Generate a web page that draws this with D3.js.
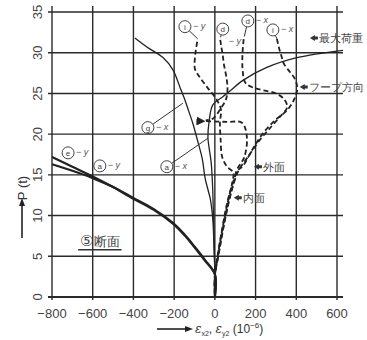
<!DOCTYPE html>
<html>
<head>
<meta charset="utf-8">
<script src="https://cdn.jsdelivr.net/npm/d3@7"></script>
<style>
  body { margin: 0; background: #fff; }
  svg text { font-family: "Liberation Sans", "DejaVu Sans", sans-serif; }
</style>
</head>
<body>
<div id="chart"></div>
<script>
// strain (10^-6) vs load P (t), section 5
const xTicks = [-800, -600, -400, -200, 0, 200, 400, 600];
const yTicks = [0, 5, 10, 15, 20, 25, 30, 35];

// solid curves (thick: compression y-direction)
const aY = [[0,0],[0,2.8],[-50,4.6],[-100,6.2],[-150,7.7],[-206,9.1],[-300,10.8],[-403,12.2],[-500,13.5],[-600,14.6],[-700,15.5],[-800,16.3]];
const eY = [[0,0],[0,2.8],[-50,4.5],[-100,6.1],[-150,7.6],[-206,9.0],[-300,10.7],[-403,12.1],[-500,13.5],[-600,14.8],[-700,16.0],[-800,17.2]];
const gX = [[0,0],[0,2.8],[-4,6],[-10,9.5],[-22,12],[-34,13.2],[-48,14.6],[-62,17],[-86,19.3],[-108,21.3],[-128,22.8],[-147,24.2],[-172,25.8],[-206,27.9],[-255,29.4],[-334,30.7],[-393,31.8]];
const aX = [[0,0],[0,3],[-3,6],[-7,10],[-11,13.5],[-18,16.5],[-30,18.6],[-34,19.6],[-28,21.6],[-10,23.6],[39,24.6],[74,25.3],[138,26.6],[255,28.2],[403,29.4],[630,30.3]];

// dashed curves
const iY = [[0,0],[0,2.5],[14,5],[38,8.5],[62,11.5],[85,14],[90,15.3],[60,16],[36,17.2],[28,19.5],[25,21.4],[30,23],[10,24.2],[-39,25.8],[-80,27.2],[-98,28],[-95,30],[-84,31.7]];
const dYLow = [[0,0],[0,2.6],[16,5],[41,8.5],[66,11.5],[92,14],[108,15.6],[145,17.2],[157,19.7],[133,21.4],[60,21.5],[-55,21.6]];
const dYHigh = [[-45,21.7],[-10,21.9],[25,23],[55,24.3],[62,25.5],[58,26.8],[45,28.5],[38,29.8],[30,31],[25,31.9]];
const dX = [[0,0],[0,2.7],[17,5],[42,8.5],[67,11.5],[93,14],[118,15.6],[162,17.2],[221,19.3],[280,21],[322,22.2],[355,23.3],[340,24.3],[300,25],[236,25.4],[190,25.7],[150,26.3],[136,28],[136,30],[142,31.8]];
const iX = [[0,0],[0,2.4],[13,5],[37,8.5],[60,11.5],[88,14],[112,15.5],[138,16.1],[182,18],[236,20.1],[300,21.8],[354,22.9],[390,24.3],[405,25.6],[395,26.7],[370,27.6],[340,28.6],[328,29.5],[315,30.6],[305,31.7]];

// gauge labels: letter, direction, circle position, leader end (data units)
const gaugeLabels = [
  ['e', 'y', [-721, 17.7], null],
  ['a', 'y', [-565, 16.1], null],
  ['a', 'x', [-236, 16.0], [-34, 19.5]],
  ['g', 'x', [-329, 20.8], [-157, 23.8]],
  ['i', 'y', [-147, 33.2], [-84, 31.7]],
  ['d', 'y', [39, 32.9], [28, 31.9]],
  ['d', 'x', [162, 33.9], [145, 32.0]],
  ['i', 'x', [285, 32.8], [305, 31.7]]
];

// side notes with pointer
const notes = [
  ['最大荷重', [467, 31.8]],
  ['フープ方向', [417, 25.8]],
  ['外面', [192, 16.0]],
  ['内面', [93, 12.2]]
];

const dimensions = {
  width: 367,
  height: 340,
  left: 52,
  right: 337,
  top: 12,
  bottom: 297
};

const svg = d3.select('#chart')
  .append('svg')
  .attr('width', dimensions.width)
  .attr('height', dimensions.height);

const xScale = d3.scaleLinear()
  .domain([-800, 600])
  .range([dimensions.left, dimensions.right]);

const yScale = d3.scaleLinear()
  .domain([0, 35])
  .range([dimensions.bottom, dimensions.top]);

svg.append('defs').append('marker')
  .attr('id', 'jump')
  .attr('viewBox', '0 0 10 10')
  .attr('refX', 2).attr('refY', 5)
  .attr('markerWidth', 5).attr('markerHeight', 5)
  .attr('orient', 'auto')
  .append('path')
  .attr('d', 'M0,5 L10,0 L10,10 Z')
  .attr('fill', '#222');

// grid
const grid = svg.append('g').attr('stroke', '#2a2a2a').attr('stroke-width', 1.4);

grid.selectAll('.vline')
  .data(xTicks)
  .join('line')
  .attr('x1', d => xScale(d)).attr('x2', d => xScale(d))
  .attr('y1', dimensions.bottom + 3).attr('y2', dimensions.top - 6);

grid.selectAll('.hline')
  .data(yTicks)
  .join('line')
  .attr('x1', dimensions.left - 4).attr('x2', dimensions.right + 6)
  .attr('y1', d => yScale(d)).attr('y2', d => yScale(d))
  .attr('stroke-width', d => d === 0 ? 2.2 : 1.4);

// tick labels
svg.append('g')
  .selectAll('text')
  .data(xTicks)
  .join('text')
  .attr('x', d => xScale(d))
  .attr('y', dimensions.bottom + 21)
  .attr('text-anchor', 'middle')
  .attr('font-size', 13)
  .attr('fill', '#444')
  .text(d => d < 0 ? '−' + Math.abs(d) : d);

svg.append('g')
  .selectAll('text')
  .data(yTicks)
  .join('text')
  .attr('transform', d => `translate(${dimensions.left - 10}, ${yScale(d)}) rotate(-90)`)
  .attr('text-anchor', 'middle')
  .attr('font-size', 13)
  .attr('fill', '#444')
  .text(d => d);

// axis titles
svg.append('text')
  .attr('transform', 'translate(27, 188) rotate(-90)')
  .attr('text-anchor', 'middle')
  .attr('font-size', 13)
  .attr('fill', '#333')
  .text('P (t)');

svg.append('line')
  .attr('x1', 22).attr('x2', 22)
  .attr('y1', 238).attr('y2', 204)
  .attr('stroke', '#222').attr('stroke-width', 1.6);
svg.append('path')
  .attr('d', 'M22,198 L19,206 L25,206 Z')
  .attr('fill', '#222');

svg.append('line')
  .attr('x1', 157).attr('x2', 186)
  .attr('y1', 329).attr('y2', 329)
  .attr('stroke', '#222').attr('stroke-width', 1.6);
svg.append('path')
  .attr('d', 'M193,329 L185,326 L185,332 Z')
  .attr('fill', '#222');

const xTitle = svg.append('text')
  .attr('x', 195)
  .attr('y', 333)
  .attr('font-size', 12)
  .attr('fill', '#333');
xTitle.append('tspan').attr('font-family', 'DejaVu Serif').attr('font-style', 'italic').text('ε');
xTitle.append('tspan').attr('font-size', 7).attr('dy', 3).text('x2');
xTitle.append('tspan').attr('dy', -3).text(', ');
xTitle.append('tspan').attr('font-family', 'DejaVu Serif').attr('font-style', 'italic').text('ε');
xTitle.append('tspan').attr('font-size', 7).attr('dy', 3).text('y2');
xTitle.append('tspan').attr('dy', -3).text(' (10');
xTitle.append('tspan').attr('font-size', 8).attr('dy', -5).text('−6');
xTitle.append('tspan').attr('dy', 5).text(')');

// curves
const line = d3.line()
  .x(d => xScale(d[0]))
  .y(d => yScale(d[1]))
  .curve(d3.curveCatmullRom.alpha(0.5));

const curves = svg.append('g').attr('fill', 'none').attr('stroke', '#222');

curves.selectAll('.thick')
  .data([aY, eY])
  .join('path')
  .attr('d', line)
  .attr('stroke-width', 2.2);

curves.selectAll('.thin')
  .data([gX, aX])
  .join('path')
  .attr('d', line)
  .attr('stroke-width', 1.3);

curves.selectAll('.dashed')
  .data([iY, dYHigh, dX, iX])
  .join('path')
  .attr('d', line)
  .attr('stroke-width', 1.8)
  .attr('stroke-dasharray', '5,3')
  .attr('stroke-dashoffset', (d, i) => i * 2);

curves.append('path')
  .attr('d', line(dYLow))
  .attr('stroke-width', 1.8)
  .attr('stroke-dasharray', '5,3')
  .attr('stroke-dashoffset', 5)
  .attr('marker-end', 'url(#jump)');

// gauge labels
const gauges = svg.append('g');

gaugeLabels.forEach(([letter, dir, pos, lead]) => {
  const cx = xScale(pos[0]);
  const cy = yScale(pos[1]);
  if (lead) {
    const lx = xScale(lead[0]);
    const ly = yScale(lead[1]);
    const a = Math.atan2(ly - cy, lx - cx);
    gauges.append('line')
      .attr('x1', cx + 6 * Math.cos(a)).attr('y1', cy + 6 * Math.sin(a))
      .attr('x2', lx).attr('y2', ly)
      .attr('stroke', '#333').attr('stroke-width', 1);
  }
  gauges.append('circle')
    .attr('cx', cx).attr('cy', cy).attr('r', 6)
    .attr('fill', '#fff').attr('stroke', '#444').attr('stroke-width', 1);
  gauges.append('text')
    .attr('x', cx).attr('y', cy + 3)
    .attr('text-anchor', 'middle')
    .attr('font-size', 8)
    .attr('fill', '#444')
    .text(letter);
  const below = letter === 'd' && dir === 'y';
  gauges.append('text')
    .attr('x', below ? cx + 6 : cx + 8)
    .attr('y', below ? cy + 15 : cy + 2)
    .attr('font-size', 9)
    .attr('font-family', 'DejaVu Serif')
    .attr('font-style', 'italic')
    .attr('fill', '#555')
    .text('− ' + dir);
});

// pointer notes
const noteG = svg.append('g');
notes.forEach(([label, pos]) => {
  const px = xScale(pos[0]);
  const py = yScale(pos[1]);
  noteG.append('path')
    .attr('d', `M${px},${py} L${px + 5},${py - 3} L${px + 5},${py - 1.5} L${px + 8},${py - 1.5} L${px + 8},${py + 1.5} L${px + 5},${py + 1.5} L${px + 5},${py + 3} Z`)
    .attr('fill', '#333');
  noteG.append('text')
    .attr('x', px + 9)
    .attr('y', py + 4)
    .attr('font-family', 'Noto Sans CJK JP')
    .attr('font-size', 11)
    .attr('fill', '#444')
    .text(label);
});

// section caption
const caption = svg.append('text')
  .attr('x', xScale(-565))
  .attr('y', yScale(6.3))
  .attr('text-anchor', 'middle')
  .attr('font-family', 'Noto Sans CJK JP')
  .attr('font-size', 13)
  .attr('fill', '#444');
caption.append('tspan').attr('font-size', 15).text('⑤');
caption.append('tspan').text('断面');

const cb = caption.node().getBBox();
svg.append('line')
  .attr('x1', cb.x - 2).attr('x2', cb.x + cb.width + 2)
  .attr('y1', cb.y + cb.height + 1).attr('y2', cb.y + cb.height + 1)
  .attr('stroke', '#333').attr('stroke-width', 1.5);
</script>
</body>
</html>
